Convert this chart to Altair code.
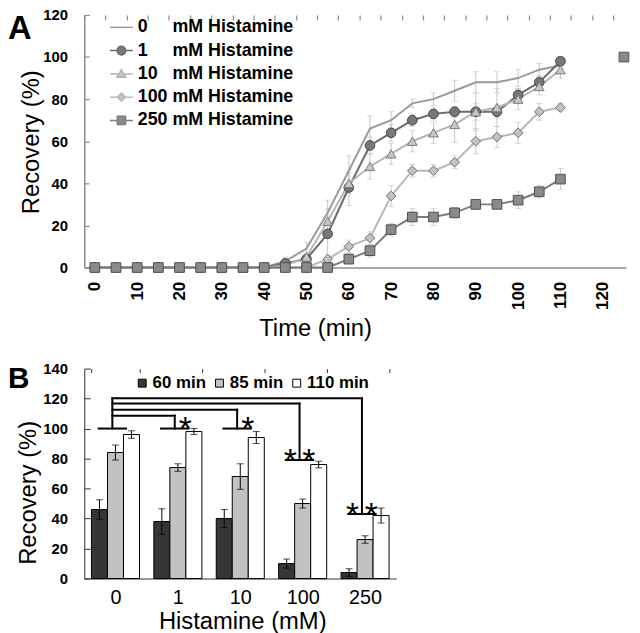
import altair as alt
import pandas as pd

FONT = "Liberation Sans"

# ---------------- Panel A data ----------------
times = [0, 5, 10, 15, 20, 25, 30, 35, 40, 45, 50, 55, 60, 65, 70, 75, 80, 85, 90, 95, 100, 105, 110]
series_labels = [
    "0\u2007\u2007 mM Histamine",
    "1\u2007\u2007 mM Histamine",
    "10\u2007 mM Histamine",
    "100 mM Histamine",
    "250 mM Histamine",
]
rec_0 = [0, 0, 0, 0, 0, 0, 0, 0, 0, 3, 9, 26, 46, 66, 70, 78, 80, 84, 88, 88, 90, 94, 96]
rec_1 = [0, 0, 0, 0, 0, 0, 0, 0, 0, 2, 4, 16, 38, 58, 64, 70, 73, 74, 74, 74, 82, 88, 98]
rec_10 = [0, 0, 0, 0, 0, 0, 0, 0, 0, 1, 5, 22, 40, 48, 54, 60, 64, 68, 74, 76, 80, 86, 94]
rec_100 = [0, 0, 0, 0, 0, 0, 0, 0, 0, 0, 0, 4, 10, 14, 34, 46, 46, 50, 60, 62, 64, 74, 76]
rec_250 = [0, 0, 0, 0, 0, 0, 0, 0, 0, 0, 0, 0, 4, 8, 18, 24, 24, 26, 30, 30, 32, 36, 42]
err_0 = [0, 0, 0, 0, 0, 0, 0, 0, 0, 2, 3, 6, 7, 6, 4, 2, 3, 5, 5, 5, 4, 3, 2.5]
err_1 = [0, 0, 0, 0, 0, 0, 0, 0, 0, 2, 2, 12, 8.5, 4, 4, 3, 3, 2.5, 4, 3, 3, 3, 2]
err_10 = [0, 0, 0, 0, 0, 0, 0, 0, 0, 1, 2, 5, 5, 6, 5, 5, 5, 8.5, 9, 9, 5, 4, 4]
err_100 = [0, 0, 0, 0, 0, 0, 0, 0, 0, 0, 0, 2, 3, 3, 5, 3, 3, 3, 6, 5, 5, 4, 2]
err_250 = [0, 0, 0, 0, 0, 0, 0, 0, 0, 0, 0, 0, 2.5, 3, 3, 4, 4, 2.5, 2, 2, 4, 3, 5]
extra_time = [125]
extra_value = [100]

line_colors = ["#9a9a9a", "#6a6a6a", "#b4b4b4", "#b8b8b8", "#7c7c7c"]
marker_fill = ["#9a9a9a", "#787878", "#c6c6c6", "#c2c2c2", "#8a8a8a"]
marker_stroke = ["#9a9a9a", "#444444", "#7a7a7a", "#707070", "#505050"]
marker_shapes = ["circle", "circle", "triangle-up", "diamond", "square"]
legend_paths = [
    "M-1,0H1",
    "M-1,0H-0.38M0.38,0H1M-0.38,0A0.38,0.38 0 1,0 0.38,0A0.38,0.38 0 1,0 -0.38,0Z",
    "M-1,0H-0.2M0.2,0H1M0,-0.36L0.4,0.3L-0.4,0.3Z",
    "M-1,0H-0.36M0.36,0H1M0,-0.36L0.36,0L0,0.36L-0.36,0Z",
    "M-1,0H-0.36M0.36,0H1M-0.36,-0.36H0.36V0.36H-0.36Z",
]

rows = []
for lab, vals, errs in zip(series_labels, [rec_0, rec_1, rec_10, rec_100, rec_250],
                           [err_0, err_1, err_10, err_100, err_250]):
    for t, v, e in zip(times, vals, errs):
        rows.append({"series": lab, "time": t, "value": v, "err": e, "lo": v - e, "hi": v + e})
dfA = pd.DataFrame(rows)
dfA_err = dfA[dfA["err"] > 0]
dfX = pd.DataFrame({"time": extra_time, "value": extra_value})

AX_A = "#8c8c8c"
tick_vals_A = [-2.5 + 2.5 * i for i in range(52)]
scale_xA = alt.Scale(domain=[-2.5, 125.5], nice=False, zero=False)
scale_yA = alt.Scale(domain=[0, 120], nice=False)
axis_xA = alt.Axis(
    values=tick_vals_A,
    labelExpr="datum.value % 10 == 0 ? datum.label : ''",
    labelAngle=270, labelFontSize=17, labelFontWeight="bold", labelPadding=14,
    labelOverlap=False, labelFlush=False, ticks=False,
    grid=True, gridDash=[5, 3000], gridColor=AX_A, gridWidth=1.2,
    gridOpacity={"condition": {"test": "datum.value % 5 != 0", "value": 1}, "value": 0},
    domainColor=AX_A, domainWidth=1.5,
    title="Time (min)", titleFontSize=24, titleFontWeight="normal",
    titleX=233, titleY=69, titleBaseline="alphabetic", titleAlign="center",
)
axis_yA = alt.Axis(
    values=[0, 20, 40, 60, 80, 100, 120], ticks=False,
    grid=True, gridDash=[5, 3000], gridColor=AX_A, gridWidth=1.2,
    labelFontSize=15, labelFontWeight="bold", labelPadding=17,
    domainColor=AX_A, domainWidth=1.5,
    title="Recovery (%)", titleFontSize=24, titleFontWeight="normal",
    titleX=-53, titleY=128, titleAngle=270, titleBaseline="middle", titleAlign="center",
)


def xA(field="time"):
    return alt.X(f"{field}:Q", scale=scale_xA, axis=axis_xA)


def yA(field="value"):
    return alt.Y(f"{field}:Q", scale=scale_yA, axis=axis_yA)


ERR_A = "#c6c6c6"
a_err = alt.Chart(dfA_err).mark_rule(color=ERR_A, strokeWidth=1).encode(
    x=xA(), y=yA("lo"), y2="hi")
a_cap_lo = alt.Chart(dfA_err).mark_tick(color=ERR_A, orient="horizontal", size=6, thickness=1).encode(
    x=xA(), y=yA("lo"))
a_cap_hi = alt.Chart(dfA_err).mark_tick(color=ERR_A, orient="horizontal", size=6, thickness=1).encode(
    x=xA(), y=yA("hi"))
a_lines = alt.Chart(dfA).mark_line(strokeWidth=2).encode(
    x=xA(), y=yA(),
    color=alt.Color("series:N", scale=alt.Scale(domain=series_labels, range=line_colors), legend=None),
)
a_points = alt.Chart(dfA).transform_filter(
    alt.datum.series != series_labels[0]
).mark_point(filled=True, size=95, strokeWidth=1, opacity=1).encode(
    x=xA(), y=yA(),
    shape=alt.Shape("series:N", scale=alt.Scale(domain=series_labels, range=marker_shapes), legend=None),
    fill=alt.Fill("series:N", scale=alt.Scale(domain=series_labels, range=marker_fill), legend=None),
    stroke=alt.Stroke("series:N", scale=alt.Scale(domain=series_labels, range=marker_stroke), legend=None),
)
a_extra = alt.Chart(dfX).mark_point(shape="square", filled=True, size=95, fill="#8a8a8a",
                                    stroke="#505050", strokeWidth=1, opacity=1).encode(
    x=xA(), y=yA())
legA = alt.Legend(
    title=None, orient="none", legendX=25, legendY=0, padding=0,
    labelFontSize=18, labelFontWeight="bold", labelColor="black", labelLimit=500,
    labelOffset=4, symbolSize=529, symbolStrokeWidth=1.5, symbolOpacity=1, rowPadding=1.5,
)
a_legend = alt.Chart(dfA).mark_point(filled=True, opacity=0).encode(
    x=xA(), y=yA(),
    shape=alt.Shape("series:N", scale=alt.Scale(domain=series_labels, range=legend_paths), legend=legA),
    fill=alt.Fill("series:N", scale=alt.Scale(domain=series_labels, range=marker_fill), legend=legA),
    stroke=alt.Stroke("series:N", scale=alt.Scale(domain=series_labels, range=line_colors), legend=legA),
)
a_letter = alt.Chart(pd.DataFrame({"t": ["A"]})).mark_text(
    fontSize=33, fontWeight="bold", align="left", baseline="top", color="black"
).encode(text="t:N", x=alt.value(-77), y=alt.value(-2))

panelA = alt.layer(a_err, a_cap_lo, a_cap_hi, a_lines, a_points, a_extra, a_legend, a_letter).resolve_scale(
    color="independent", fill="independent", stroke="independent", shape="independent"
).properties(width=547, height=255)

# ---------------- Panel B data ----------------
groups = ["0", "1", "10", "100", "250"]
times_b = ["60 min", "85 min", "110 min"]
val_60 = [46, 38, 40, 10, 4]
err_60 = [6.5, 8.5, 6, 3, 2.5]
val_85 = [84, 74, 68, 50, 26]
err_85 = [5, 2.5, 8.5, 3, 2.5]
val_110 = [96, 98, 94, 76, 42]
err_110 = [2.5, 2, 4, 2.2, 5]
colors_b = ["#363636", "#c2c2c2", "#ffffff"]

rowsB = []
for tlab, vals, errs in zip(times_b, [val_60, val_85, val_110], [err_60, err_85, err_110]):
    for g, v, e in zip(groups, vals, errs):
        rowsB.append({"group": g, "time": tlab, "value": v, "err": e, "lo": v - e, "hi": v + e})
dfB = pd.DataFrame(rowsB)

# significance brackets (reference group 0 vs each target)
bracket_targets = [1, 2, 3, 4]
bracket_levels = [108.6, 112.6, 116.7, 120.2]
crossbar_levels = [100, 100, 100, 79, 43]
star_counts = [1, 1, 2, 2]

segs = []
for k, lvl in zip(bracket_targets, bracket_levels):
    segs.append({"bx": 0.45, "bx2": k + 0.45, "by": lvl, "by2": lvl})
    segs.append({"bx": k + 0.45, "bx2": k + 0.45, "by": lvl, "by2": crossbar_levels[k]})
segs.append({"bx": 0.45, "bx2": 0.45, "by": max(bracket_levels), "by2": crossbar_levels[0]})
for i, c in enumerate(crossbar_levels):
    segs.append({"bx": i + 0.23, "bx2": i + 0.67, "by": c, "by2": c})
dfSeg = pd.DataFrame(segs)

stars = []
for k, n in zip(bracket_targets, star_counts):
    xs = [k + 0.62] if n == 1 else [k + 0.3, k + 0.6]
    for sx in xs:
        stars.append({"bx": sx, "by": crossbar_levels[k] + 5.3, "s": "*"})
dfStar = pd.DataFrame(stars)

AX_B = "#333333"
scale_xB = alt.Scale(domain=groups, paddingInner=0.23, paddingOuter=0.115)
scale_yB = alt.Scale(domain=[0, 140], nice=False)
axis_xB = alt.Axis(
    labelAngle=0, labelFontSize=20, labelFontWeight="normal", labelPadding=9,
    ticks=False, tickBand="extent", grid=True, gridDash=[4, 3000], gridColor=AX_B,
    domainColor=AX_B, domainWidth=1,
    title="Histamine (mM)", titleFontSize=24, titleFontWeight="normal",
    titleX=159.5, titleY=50, titleBaseline="alphabetic", titleAlign="center",
)
axis_yB = alt.Axis(
    values=[0, 20, 40, 60, 80, 100, 120, 140], ticks=False,
    grid=True, gridDash=[6, 3000], gridColor=AX_B,
    labelFontSize=15, labelFontWeight="bold", labelPadding=17,
    domainColor=AX_B, domainWidth=1,
    title="Recovery (%)", titleFontSize=24, titleFontWeight="normal",
    titleX=-56, titleY=125, titleAngle=270, titleBaseline="middle", titleAlign="center",
)


def xB():
    return alt.X("group:N", sort=groups, scale=scale_xB, axis=axis_xB)


def xoB():
    return alt.XOffset("time:N", sort=times_b, scale=alt.Scale(domain=times_b, paddingInner=0, paddingOuter=0))


def yB(field="value"):
    return alt.Y(f"{field}:Q", scale=scale_yB, axis=axis_yB)


legB = alt.Legend(
    title=None, orient="none", direction="horizontal", legendX=50, legendY=6, padding=0,
    symbolType="square", symbolSize=64, symbolStrokeColor="black", symbolStrokeWidth=1,
    labelFontSize=17, labelFontWeight="bold", labelColor="black", labelOffset=2,
    columnPadding=5, labelLimit=300,
)
b_bars = alt.Chart(dfB).mark_bar(stroke="black", strokeWidth=1).encode(
    x=xB(), xOffset=xoB(), y=yB(),
    fill=alt.Fill("time:N", scale=alt.Scale(domain=times_b, range=colors_b), legend=legB),
)
b_err = alt.Chart(dfB).mark_rule(color="black", strokeWidth=1).encode(
    x=xB(), xOffset=xoB(), y=yB("lo"), y2="hi")
b_cap_lo = alt.Chart(dfB).mark_tick(color="black", orient="horizontal", size=7, thickness=1).encode(
    x=xB(), xOffset=xoB(), y=yB("lo"))
b_cap_hi = alt.Chart(dfB).mark_tick(color="black", orient="horizontal", size=7, thickness=1).encode(
    x=xB(), xOffset=xoB(), y=yB("hi"))
inner_bars = alt.layer(b_bars, b_err, b_cap_lo, b_cap_hi)

scale_bx = alt.Scale(domain=[0, 5], nice=False, zero=False)
b_br = alt.Chart(dfSeg).mark_rule(color="black", strokeWidth=2, strokeCap="square").encode(
    x=alt.X("bx:Q", scale=scale_bx, axis=None), x2="bx2",
    y=yB("by"), y2="by2")
b_stars = alt.Chart(dfStar).mark_text(fontSize=34, baseline="middle", align="center", dy=10, color="black").encode(
    x=alt.X("bx:Q", scale=scale_bx, axis=None), y=yB("by"), text="s:N")
b_letter = alt.Chart(pd.DataFrame({"t": ["B"]})).mark_text(
    fontSize=30, fontWeight="bold", align="left", baseline="alphabetic", color="black"
).encode(text="t:N", x=alt.value(-77), y=alt.value(20))
inner_br = alt.layer(b_br, b_stars, b_letter)

panelB = alt.layer(inner_bars, inner_br).resolve_scale(x="independent").properties(width=315, height=212)

chart = alt.vconcat(panelA, panelB, spacing=21).resolve_legend(
    fill="independent", stroke="independent", shape="independent"
).properties(padding={"top": -3, "left": 0, "right": 0, "bottom": 0}).configure(
    font=FONT
).configure_view(stroke=None).configure_axis(labelColor="black", titleColor="black")

chart.save("out.html", embed_options={"renderer": "svg", "actions": False})
